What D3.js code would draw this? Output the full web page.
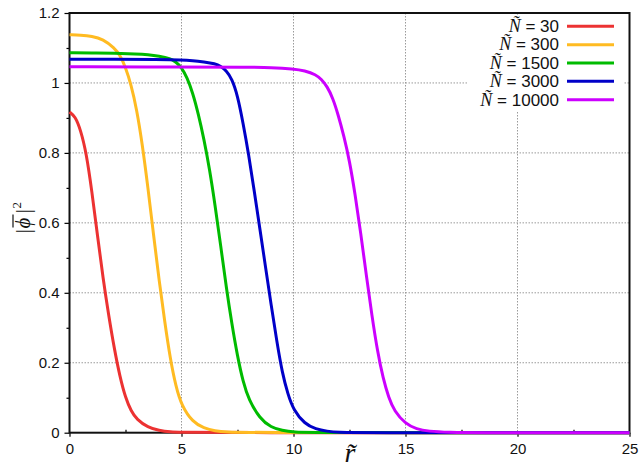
<!DOCTYPE html>
<html>
<head>
<meta charset="utf-8">
<script src="https://cdnjs.cloudflare.com/ajax/libs/d3/7.8.5/d3.min.js"></script>
<style>
    body { margin: 0; background: #fff; }
    svg { display: block; }
</style>
</head>
<body>
<div id="chart"></div>
<script>
/*global d3: false*/

// legend labels (N tilde values) and colours
var seriesN = ['30', '300', '1500', '3000', '10000'];
var seriesColors = ['#ec3232', '#ffbb22', '#00bb00', '#0000c8', '#cc00ff'];

// [r, |phi|^2] samples
var profile30 = [[0, 0.917], [0.25, 0.905], [0.5, 0.865], [0.75, 0.8], [1.0, 0.69], [1.25, 0.563],
    [1.5, 0.44], [1.75, 0.335], [2.0, 0.24], [2.25, 0.16], [2.5, 0.1], [2.75, 0.062], [3.0, 0.038],
    [3.5, 0.015], [4.0, 0.006], [4.5, 0.002], [5, 0.001], [6, 0], [25, 0]];
var profile300 = [[0, 1.138], [0.5, 1.137], [1, 1.134], [1.5, 1.125], [2, 1.1], [2.25, 1.08],
    [2.5, 1.045], [2.75, 0.995], [3, 0.925], [3.25, 0.825], [3.5, 0.702], [3.75, 0.567], [4, 0.435],
    [4.25, 0.318], [4.5, 0.21], [4.75, 0.132], [5, 0.078], [5.5, 0.03], [6, 0.013], [6.5, 0.005],
    [7, 0.002], [8, 0], [25, 0]];
var profile1500 = [[0, 1.086], [1, 1.086], [2, 1.085], [3, 1.083], [3.5, 1.081], [4, 1.077],
    [4.5, 1.07], [4.75, 1.06], [5, 1.045], [5.25, 1.015], [5.5, 0.972], [5.75, 0.912], [6, 0.84],
    [6.25, 0.755], [6.5, 0.65], [6.75, 0.535], [7, 0.415], [7.25, 0.31], [7.5, 0.218], [7.75, 0.145],
    [8, 0.095], [8.5, 0.04], [9, 0.015], [9.5, 0.006], [10, 0.002], [11, 0], [25, 0]];
var profile3000 = [[0, 1.068], [2, 1.068], [4, 1.067], [5, 1.066], [5.5, 1.064], [6, 1.06],
    [6.5, 1.055], [6.75, 1.048], [7, 1.035], [7.25, 1.012], [7.5, 0.965], [7.75, 0.885], [8, 0.795],
    [8.25, 0.69], [8.5, 0.583], [8.75, 0.474], [9, 0.366], [9.25, 0.263], [9.5, 0.17], [9.75, 0.11],
    [10, 0.065], [10.5, 0.025], [11, 0.01], [11.5, 0.004], [12, 0.001], [13, 0], [25, 0]];
var profile10000 = [[0, 1.046], [5, 1.046], [8, 1.045], [9, 1.044], [10, 1.04], [10.5, 1.035],
    [11, 1.024], [11.25, 1.01], [11.5, 0.99], [11.75, 0.958], [12, 0.908], [12.25, 0.848],
    [12.5, 0.778], [12.75, 0.682], [13, 0.572], [13.25, 0.45], [13.5, 0.335], [13.75, 0.232],
    [14, 0.155], [14.25, 0.1], [14.5, 0.062], [15, 0.025], [15.5, 0.01], [16, 0.004], [17, 0.001],
    [18, 0], [25, 0]];
var profiles = [profile30, profile300, profile1500, profile3000, profile10000];

// ticks
var xTicks = [0, 5, 10, 15, 20, 25];
var xMinorTicks = [2.5, 7.5, 12.5, 17.5, 22.5];
var yTicks = [0, 0.2, 0.4, 0.6, 0.8, 1, 1.2];
var yMinorTicks = [0.1, 0.3, 0.5, 0.7, 0.9, 1.1];

(function() {
    'use strict';
    var width, height, left, right, top, bottom, svg, x, y, line, legend, i, rowY, label, ylab;

    width = 641;
    height = 470;
    left = 69.5;
    right = 629.5;
    top = 13;
    bottom = 432.7;

    svg = d3.select('#chart').append('svg')
        .attr('width', width)
        .attr('height', height);

    x = d3.scaleLinear().domain([0, 25]).range([left, right]);
    y = d3.scaleLinear().domain([0, 1.2]).range([bottom, top]);

    // Grid lines
    svg.selectAll('line.gx')
        .data(xTicks.slice(1, -1))
        .enter().append('line')
        .attr('x1', function(d) { return x(d); })
        .attr('x2', function(d) { return x(d); })
        .attr('y1', top)
        .attr('y2', bottom)
        .attr('stroke', '#9a9a9a')
        .attr('stroke-width', 1)
        .attr('stroke-dasharray', '1.5,1.5');
    svg.selectAll('line.gy')
        .data(yTicks.slice(1, -1))
        .enter().append('line')
        .attr('x1', left)
        .attr('x2', right)
        .attr('y1', function(d) { return y(d); })
        .attr('y2', function(d) { return y(d); })
        .attr('stroke', '#9a9a9a')
        .attr('stroke-width', 1)
        .attr('stroke-dasharray', '1.5,1.5');

    // Legend background hides the grid
    legend = svg.append('g');
    legend.append('rect')
        .attr('x', 467)
        .attr('y', 16)
        .attr('width', 156)
        .attr('height', 95)
        .attr('fill', '#fff');

    // Axes
    svg.append('g')
        .attr('transform', 'translate(0,' + bottom + ')')
        .call(d3.axisBottom(x).tickValues(xTicks).tickSize(4).tickPadding(7)
            .tickFormat(d3.format('d')))
        .call(function(g) {
            g.select('.domain').remove();
            g.selectAll('text').attr('font-family', 'Liberation Sans, Arial, sans-serif')
                .attr('font-size', 15).attr('fill', '#111');
            g.selectAll('line').attr('stroke', '#000').attr('stroke-width', 1.2);
        });
    svg.append('g')
        .attr('transform', 'translate(0,' + bottom + ')')
        .call(d3.axisTop(x).tickValues(xMinorTicks).tickSize(3).tickFormat(''))
        .call(function(g) {
            g.select('.domain').remove();
            g.selectAll('line').attr('stroke', '#000').attr('stroke-width', 1.2);
        });
    svg.append('g')
        .attr('transform', 'translate(' + left + ',0)')
        .call(d3.axisLeft(y).tickValues(yTicks).tickSize(5).tickPadding(5)
            .tickFormat(d3.format('~g')))
        .call(function(g) {
            g.select('.domain').remove();
            g.selectAll('text').attr('font-family', 'Liberation Sans, Arial, sans-serif')
                .attr('font-size', 15).attr('fill', '#111');
            g.selectAll('line').attr('stroke', '#000').attr('stroke-width', 1.2);
        });
    svg.append('g')
        .attr('transform', 'translate(' + left + ',0)')
        .call(d3.axisLeft(y).tickValues(yMinorTicks).tickSize(3).tickFormat(''))
        .call(function(g) {
            g.select('.domain').remove();
            g.selectAll('line').attr('stroke', '#000').attr('stroke-width', 1.2);
        });

    // Frame
    svg.append('rect')
        .attr('x', left)
        .attr('y', top)
        .attr('width', right - left)
        .attr('height', bottom - top)
        .attr('fill', 'none')
        .attr('stroke', '#111')
        .attr('stroke-width', 2);

    // Curves
    line = d3.line()
        .x(function(d) { return x(d[0]); })
        .y(function(d) { return y(d[1]); })
        .curve(d3.curveBasis);
    for (i = 0; i < profiles.length; i++) {
        svg.append('path')
            .attr('d', line(profiles[i]))
            .attr('fill', 'none')
            .attr('stroke', seriesColors[i])
            .attr('stroke-width', 3)
            .attr('stroke-linejoin', 'round');
    }

    // Legend entries
    for (i = 0; i < seriesN.length; i++) {
        rowY = 26.3 + i * 18.35;
        legend.append('line')
            .attr('x1', 567)
            .attr('x2', 614)
            .attr('y1', rowY)
            .attr('y2', rowY)
            .attr('stroke', seriesColors[i])
            .attr('stroke-width', 3);
        label = legend.append('text')
            .attr('x', 559)
            .attr('y', rowY + 5.8)
            .attr('text-anchor', 'end')
            .attr('fill', '#111');
        label.append('tspan')
            .attr('font-family', 'Liberation Serif, serif')
            .attr('font-style', 'italic')
            .attr('font-size', 18)
            .text('\u00d1');
        label.append('tspan')
            .attr('font-family', 'Liberation Sans, Arial, sans-serif')
            .attr('font-size', 17)
            .text(' = ' + seriesN[i]);
    }

    // Axis titles
    svg.append('text')
        .attr('x', 350)
        .attr('y', 462)
        .attr('text-anchor', 'middle')
        .attr('font-family', 'Liberation Serif, serif')
        .attr('font-style', 'italic')
        .attr('font-size', 28)
        .attr('fill', '#111')
        .text('r\u0303');

    ylab = svg.append('g')
        .attr('transform', 'translate(30,218) rotate(-90)')
        .attr('font-family', 'Liberation Serif, serif')
        .attr('fill', '#111');
    ylab.append('text').attr('x', -15.5).attr('y', 0).attr('font-size', 22).text('|');
    ylab.append('text').attr('x', -10.5).attr('y', 0).attr('font-size', 21)
        .attr('font-style', 'italic').text('\u03d5');
    ylab.append('text').attr('x', 4.5).attr('y', 0).attr('font-size', 22).text('|');
    ylab.append('text').attr('x', 9.5).attr('y', -9).attr('font-size', 13).text('2');
    ylab.append('line')
        .attr('x1', -9.5)
        .attr('x2', 3.5)
        .attr('y1', -17)
        .attr('y2', -17)
        .attr('stroke', '#111')
        .attr('stroke-width', 1.2);
}());
</script>
</body>
</html>
